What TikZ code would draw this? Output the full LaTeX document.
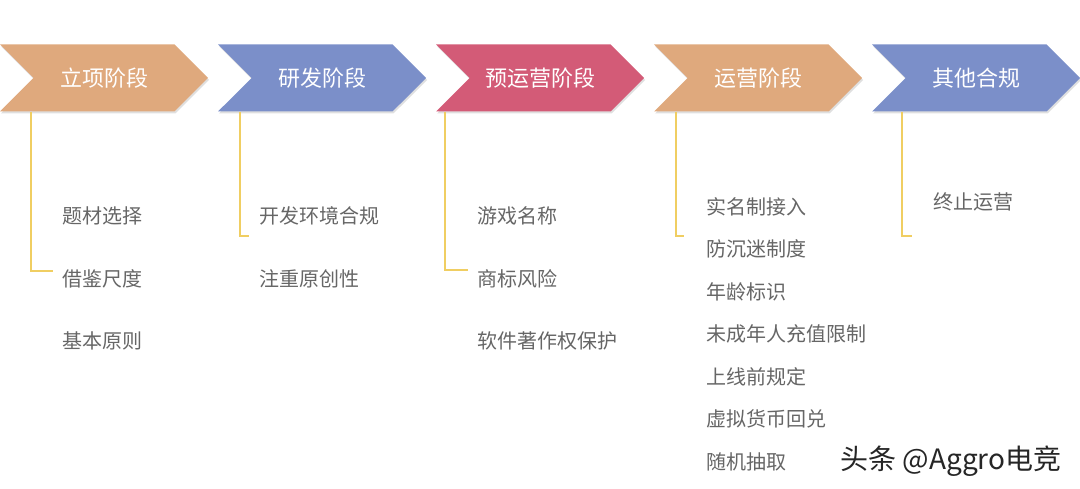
\documentclass[tikz,border=0pt]{standalone}
\usepackage{fontspec}
\newfontfamily\cjk{Noto Sans CJK SC}
\usetikzlibrary{shapes.symbols}
\usetikzlibrary{shadows}

\definecolor{sand}{HTML}{DFA97D}
\definecolor{slate}{HTML}{7B8FC9}
\definecolor{rose}{HTML}{D35B77}
\definecolor{txtgray}{HTML}{666666}
\definecolor{ruleyellow}{HTML}{F0CE62}

\begin{document}
\begin{tikzpicture}[x=1pt,y=-1pt,
  stage/.style={signal, signal from=west, signal to=east, signal pointer angle=90,
    minimum width=208pt, minimum height=67pt, inner sep=0pt, text=white,
    font=\cjk\fontsize{22}{26}\selectfont,
    drop shadow={opacity=0.25, shadow xshift=1pt, shadow yshift=-2pt}},
  item/.style={anchor=west, inner sep=0pt, text=txtgray, font=\cjk\fontsize{20}{24}\selectfont},
  rule/.style={draw=ruleyellow, line width=1.2pt}]
\useasboundingbox (0,0) rectangle (1080,489);
\node (lixiang) at (104,78) [stage, fill=sand] {立项阶段};
\node (yanfa) at (322,78) [stage, fill=slate] {研发阶段};
\node (yuyunying) at (540,78) [stage, fill=rose] {预运营阶段};
\node (yunying) at (758,78) [stage, fill=sand] {运营阶段};
\node (qita) at (976,78) [stage, fill=slate] {其他合规};
\node (ticai) at (62,216) [item] {题材选择};
\node (jiejian) at (62,279) [item] {借鉴尺度};
\node (yuanze) at (62,341) [item] {基本原则};
\node (huanjing) at (259,216) [item] {开发环境合规};
\node (yuanchuang) at (259,279) [item] {注重原创性};
\node (mingcheng) at (477,216) [item] {游戏名称};
\node (shangbiao) at (477,279) [item] {商标风险};
\node (zhuzuo) at (477,341) [item] {软件著作权保护};
\node (shiming) at (706,207) [item] {实名制接入};
\node (fangchenmi) at (706,249) [item] {防沉迷制度};
\node (nianling) at (706,292) [item] {年龄标识};
\node (chongzhi) at (706,334) [item] {未成年人充值限制};
\node (shangxian) at (706,377) [item] {上线前规定};
\node (huidui) at (706,419) [item] {虚拟货币回兑};
\node (chouqu) at (706,462) [item] {随机抽取};
\node (zhongzhi) at (933,202) [item] {终止运营};
\node (wm) at (951,461) [font=\cjk\fontsize{28}{32}\selectfont, text=black!85] {头条 @Aggro电竞};
\coordinate (e1) at (53,271);
\coordinate (e2) at (249,236);
\coordinate (e3) at (468,270);
\coordinate (e4) at (684,236);
\coordinate (e5) at (912,236);
\draw[rule] ([xshift=-73pt]lixiang.south) |- (e1);
\draw[rule] ([xshift=-82pt]yanfa.south) |- (e2);
\draw[rule] ([xshift=-95pt]yuyunying.south) |- (e3);
\draw[rule] ([xshift=-82pt]yunying.south) |- (e4);
\draw[rule] ([xshift=-74pt]qita.south) |- (e5);
\end{tikzpicture}
\end{document}
